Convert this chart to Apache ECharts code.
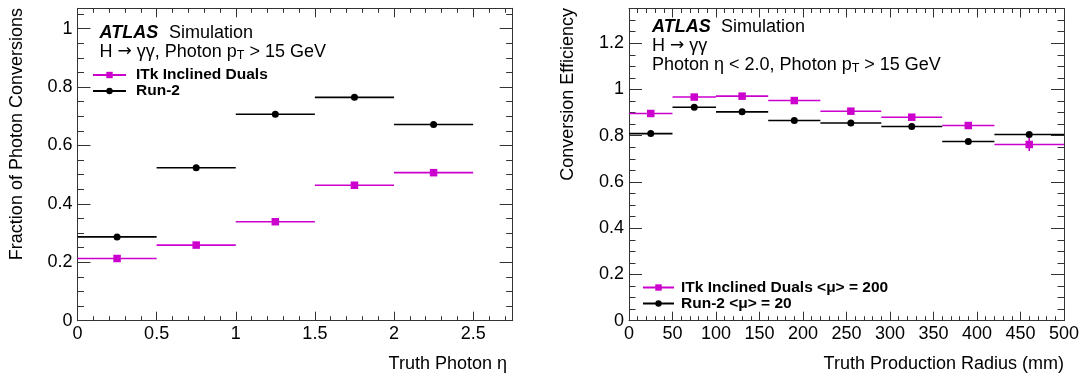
<!DOCTYPE html>
<html><head><meta charset="utf-8">
<script src="https://cdn.jsdelivr.net/npm/echarts@6/dist/echarts.min.js"></script>
<style>html,body{margin:0;padding:0;background:#fff}#c{width:1088px;height:381px}</style>
</head><body><div id="c"></div>
<script>
// ---- data ----
const etaEdges = [0, 0.5, 1.0, 1.5, 2.0, 2.5];
const etaItk = [0.213, 0.259, 0.339, 0.464, 0.507];
const etaItkErr = [0.002, 0.002, 0.002, 0.003, 0.003];
const etaRun2 = [0.287, 0.524, 0.707, 0.765, 0.672];
const etaRun2Err = [0.002, 0.002, 0.002, 0.002, 0.003];

const radiusEdges = [0, 50, 100, 160, 220, 290, 360, 420, 500];
const radItk = [0.896, 0.967, 0.971, 0.952, 0.906, 0.880, 0.844, 0.762];
const radItkErr = [0.004, 0.003, 0.003, 0.004, 0.005, 0.007, 0.008, 0.028];
const radRun2 = [0.809, 0.923, 0.903, 0.866, 0.855, 0.840, 0.775, 0.805];
const radRun2Err = [0.003, 0.003, 0.003, 0.004, 0.004, 0.005, 0.006, 0.007];

const leftNames = ['ITk Inclined Duals', 'Run-2'];
const rightNames = ['ITk Inclined Duals <μ> = 200', 'Run-2 <μ> = 20'];

const MAG = '#cc00cc', BLK = '#000000';
const FONT = '"Liberation Sans", Arial, Helvetica, sans-serif';
const AX = '#333';

function binRows(edges, vals, errs) {
  return vals.map((v, i) => [edges[i], edges[i + 1], v, errs[i]]);
}
function centers(edges, vals) {
  return vals.map((v, i) => [(edges[i] + edges[i + 1]) / 2, v]);
}

function xAxes(grid, min, max, major, minor, showMax) {
  const base = {gridIndex: grid, type: 'value', min: min, max: max, splitLine: {show: false}, axisLine: {onZero: false, lineStyle: {color: AX, width: 1}}};
  return [
    Object.assign({}, base, {position: 'bottom', interval: major,
      axisTick: {inside: true, length: 9, lineStyle: {color: AX}},
      axisLabel: {show: true, margin: 4, color: '#000', fontFamily: FONT, fontSize: 18, showMaxLabel: showMax, showMinLabel: true}}),
    Object.assign({}, base, {position: 'bottom', interval: minor, axisLine: {show: false, onZero: false},
      axisTick: {inside: true, length: 4.5, lineStyle: {color: AX}}, axisLabel: {show: false}}),
    Object.assign({}, base, {position: 'top', interval: major,
      axisTick: {inside: true, length: 9, lineStyle: {color: AX}}, axisLabel: {show: false}}),
    Object.assign({}, base, {position: 'top', interval: minor, axisLine: {show: false, onZero: false},
      axisTick: {inside: true, length: 4.5, lineStyle: {color: AX}}, axisLabel: {show: false}})
  ];
}
function yAxes(grid, min, max, major, minor) {
  const base = {gridIndex: grid, type: 'value', min: min, max: max, splitLine: {show: false}, axisLine: {onZero: false, lineStyle: {color: AX, width: 1}}};
  return [
    Object.assign({}, base, {position: 'left', interval: major,
      axisTick: {inside: true, length: 13, lineStyle: {color: AX}},
      axisLabel: {show: true, margin: 5, color: '#000', fontFamily: FONT, fontSize: 18, showMaxLabel: false, showMinLabel: true}}),
    Object.assign({}, base, {position: 'left', interval: minor, axisLine: {show: false, onZero: false},
      axisTick: {inside: true, length: 6.5, lineStyle: {color: AX}}, axisLabel: {show: false}}),
    Object.assign({}, base, {position: 'right', interval: major,
      axisTick: {inside: true, length: 13, lineStyle: {color: AX}}, axisLabel: {show: false}}),
    Object.assign({}, base, {position: 'right', interval: minor, axisLine: {show: false, onZero: false},
      axisTick: {inside: true, length: 6.5, lineStyle: {color: AX}}, axisLabel: {show: false}})
  ];
}

function errSeries(xi, yi, rows, color) {
  return {
    type: 'custom', xAxisIndex: xi, yAxisIndex: yi, data: rows, encode: {x: [0, 1], y: 2}, z: 3, silent: true,
    renderItem: function (params, api) {
      const lo = api.value(0), hi = api.value(1), v = api.value(2), e = api.value(3);
      const a = api.coord([lo, v]), b = api.coord([hi, v]);
      const c = (lo + hi) / 2;
      const t = api.coord([c, v + e]), d = api.coord([c, v - e]);
      return {type: 'group', children: [
        {type: 'line', shape: {x1: a[0], y1: a[1], x2: b[0], y2: b[1]}, style: {stroke: color, lineWidth: 1.6}},
        {type: 'line', shape: {x1: t[0], y1: t[1], x2: d[0], y2: d[1]}, style: {stroke: color, lineWidth: 1.6}}
      ]};
    }
  };
}
function markSeries(xi, yi, pts, color, sym, size) {
  return {type: 'scatter', xAxisIndex: xi, yAxisIndex: yi, data: pts, symbol: sym, symbolSize: size, z: 4, silent: true,
    itemStyle: {color: color, opacity: 1}};
}
function legendSeries(xi, yi, name, color, sym) {
  return {type: 'line', name: name, xAxisIndex: xi, yAxisIndex: yi, data: [], symbol: sym, symbolSize: 7,
    lineStyle: {color: color, width: 1.6}, itemStyle: {color: color}};
}

const legendText = {fontFamily: FONT, fontWeight: 'bold', fontSize: 15.5, lineHeight: 16, color: '#000'};

const richBase = {
  n: {fontFamily: FONT, fontSize: 18, lineHeight: 20, fill: '#000', verticalAlign: 'middle'},
  a: {fontFamily: '"DejaVu Sans", sans-serif', fontSize: 17, lineHeight: 20, fill: '#000', verticalAlign: 'middle'},
  s: {fontFamily: FONT, fontSize: 12.5, lineHeight: 11, fill: '#000', verticalAlign: 'bottom'}
};
function richText(x, y, text) {
  return {type: 'text', x: x, y: y, silent: true, style: {
    text: text, textAlign: 'left', textVerticalAlign: 'middle', rich: richBase
  }};
}
function plainText(x, y, text, opts) {
  return {type: 'text', x: x, y: y, silent: true, rotation: (opts && opts.rotation) || 0,
    style: Object.assign({text: text, fontFamily: FONT, fontSize: 18, fill: '#000', textAlign: 'left', textVerticalAlign: 'middle'}, opts && opts.style)};
}

const option = {
  animation: false,
  backgroundColor: '#fff',
  grid: [
    {left: 77.5, top: 8.3, width: 435.2, height: 312.4, show: false},
    {left: 629, top: 8.5, width: 435, height: 312.2, show: false}
  ],
  xAxis: [].concat(xAxes(0, 0, 2.75, 0.5, 0.1, false), xAxes(1, 0, 500, 50, 10, true)),
  yAxis: [].concat(yAxes(0, 0, 1.07, 0.2, 0.05), yAxes(1, 0, 1.35, 0.2, 0.05)),
  legend: [
    {data: leftNames, orient: 'vertical', left: 92, top: 67, padding: 0, itemWidth: 33, itemHeight: 8, itemGap: 0,
      selectedMode: false, textStyle: Object.assign({padding: [0, 0, 0, 5]}, legendText)},
    {data: rightNames, orient: 'vertical', left: 642, top: 279.5, padding: 0, itemWidth: 31, itemHeight: 8, itemGap: 0,
      selectedMode: false, textStyle: Object.assign({padding: [0, 0, 0, 2]}, legendText)}
  ],
  series: [
    legendSeries(0, 0, leftNames[0], MAG, 'rect'),
    legendSeries(0, 0, leftNames[1], BLK, 'circle'),
    legendSeries(4, 4, rightNames[0], MAG, 'rect'),
    legendSeries(4, 4, rightNames[1], BLK, 'circle'),
    errSeries(0, 0, binRows(etaEdges, etaItk, etaItkErr), MAG),
    markSeries(0, 0, centers(etaEdges, etaItk), MAG, 'rect', 7.5),
    errSeries(0, 0, binRows(etaEdges, etaRun2, etaRun2Err), BLK),
    markSeries(0, 0, centers(etaEdges, etaRun2), BLK, 'circle', 7),
    errSeries(4, 4, binRows(radiusEdges, radItk, radItkErr), MAG),
    markSeries(4, 4, centers(radiusEdges, radItk), MAG, 'rect', 7.5),
    errSeries(4, 4, binRows(radiusEdges, radRun2, radRun2Err), BLK),
    markSeries(4, 4, centers(radiusEdges, radRun2), BLK, 'circle', 7)
  ],
  graphic: [
    plainText(99.5, 33.5, 'ATLAS', {style: {fontWeight: 'bold', fontStyle: 'italic'}}),
    plainText(169, 33.5, 'Simulation'),
    richText(99.5, 52, '{n|H }{a|→}{n| γγ, Photon p}{s|T}{n| > 15 GeV}'),
    plainText(652, 27, 'ATLAS', {style: {fontWeight: 'bold', fontStyle: 'italic'}}),
    plainText(721, 27, 'Simulation'),
    richText(652, 46, '{n|H }{a|→}{n| γγ}'),
    richText(652, 65, '{n|Photon η < 2.0, Photon p}{s|T}{n| > 15 GeV}'),
    plainText(17, 8, 'Fraction of Photon Conversions', {rotation: Math.PI / 2, style: {textAlign: 'right'}}),
    plainText(568, 8, 'Conversion Efficiency', {rotation: Math.PI / 2, style: {textAlign: 'right'}}),
    plainText(507, 364, 'Truth Photon η', {style: {textAlign: 'right'}}),
    plainText(1064, 364, 'Truth Production Radius (mm)', {style: {textAlign: 'right'}})
  ]
};

const chart = echarts.init(document.getElementById('c'), null, {renderer: 'canvas'});
chart.setOption(option);
</script>
</body></html>
